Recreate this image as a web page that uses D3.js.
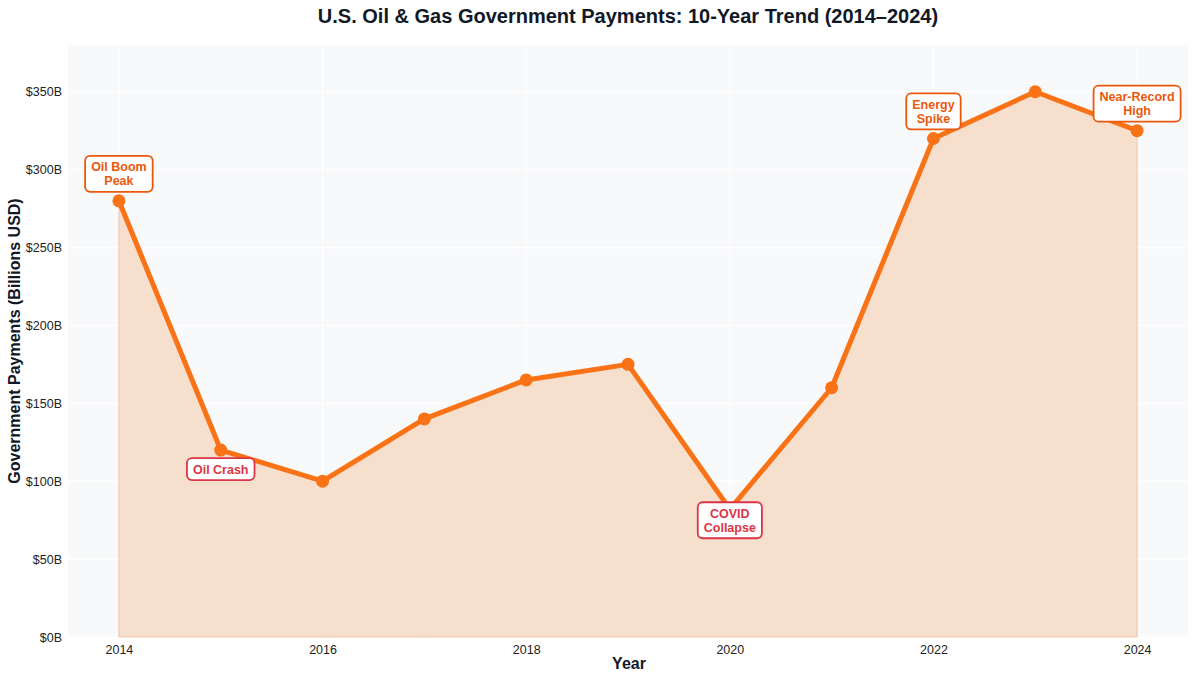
<!DOCTYPE html>
<html><head><meta charset="utf-8">
<script src="https://cdn.jsdelivr.net/npm/d3@7"></script>
<style>body{margin:0;background:#fff;font-family:"Liberation Sans",Arial,sans-serif}</style>
</head><body><svg id="chart" width="1200" height="681"></svg>
<script>
const years = [2014,2015,2016,2017,2018,2019,2020,2021,2022,2023,2024];
const payments = [280,120,100,140,165,175,82,160,320,350,325];
const yTicks = [0,50,100,150,200,250,300,350];
const xTicks = [2014,2016,2018,2020,2022,2024];
const notes = [
  {year:2014, lines:["Oil Boom","Peak"], pos:"above", gap:9, color:"#ea580c"},
  {year:2015, lines:["Oil Crash"], pos:"below", gap:8, color:"#dc3545"},
  {year:2020, lines:["COVID","Collapse"], pos:"below", gap:-7, color:"#dc3545"},
  {year:2022, lines:["Energy","Spike"], pos:"above", gap:9, color:"#ea580c"},
  {year:2024, lines:["Near-Record","High"], pos:"above", gap:9, color:"#ea580c"}
];

const svg = d3.select("#chart");
const m = {left:68, right:12, top:45, bottom:44};
const W = 1200, H = 681;
const x = d3.scaleLinear().domain([2013.5,2024.5]).range([m.left, W-m.right]);
const y = d3.scaleLinear().domain([0,380]).range([H-m.bottom, m.top]);

svg.append("rect").attr("x",m.left).attr("y",m.top)
  .attr("width",W-m.right-m.left).attr("height",H-m.bottom-m.top).attr("fill","#f8f9fb");

// grid
svg.append("g").selectAll("line").data(yTicks).join("line")
  .attr("x1",m.left).attr("x2",W-m.right).attr("y1",d=>y(d)).attr("y2",d=>y(d))
  .attr("stroke","#fff").attr("stroke-width",1.2);
svg.append("g").selectAll("line").data(xTicks).join("line")
  .attr("y1",m.top).attr("y2",H-m.bottom).attr("x1",d=>x(d)).attr("x2",d=>x(d))
  .attr("stroke","#fff").attr("stroke-width",1.2);

const data = years.map((yr,i)=>({yr, v:payments[i]}));
svg.append("path").datum(data)
  .attr("d", d3.area().x(d=>x(d.yr)).y0(y(0)).y1(d=>y(d.v)))
  .attr("fill","#f7dfcd").attr("stroke","#efc5a8").attr("stroke-width",1);
svg.append("path").datum(data)
  .attr("d", d3.line().x(d=>x(d.yr)).y(d=>y(d.v)))
  .attr("fill","none").attr("stroke","#f97316").attr("stroke-width",5).attr("stroke-linejoin","round");
svg.append("g").selectAll("circle").data(data).join("circle")
  .attr("cx",d=>x(d.yr)).attr("cy",d=>y(d.v)).attr("r",6.5).attr("fill","#f97316");

// axes
const yAxis = svg.append("g").attr("transform",`translate(${m.left},0)`)
  .call(d3.axisLeft(y).tickValues(yTicks).tickFormat(d=>`$${d}B`).tickSize(0).tickPadding(6));
const xAxis = svg.append("g").attr("transform",`translate(0,${H-m.bottom})`)
  .call(d3.axisBottom(x).tickValues(xTicks).tickFormat(d3.format("d")).tickSize(0).tickPadding(8));
[xAxis,yAxis].forEach(a=>{a.select(".domain").remove();
  a.selectAll("text").attr("font-size",12.5).attr("fill","#222").attr("font-family","Liberation Sans, Arial");});

svg.append("text").attr("x",628).attr("y",23).attr("text-anchor","middle")
  .attr("font-size",20).attr("font-weight","bold").attr("fill","#111827")
  .text("U.S. Oil & Gas Government Payments: 10-Year Trend (2014–2024)");
svg.append("text").attr("x",629).attr("y",669).attr("text-anchor","middle")
  .attr("font-size",16).attr("font-weight","bold").attr("fill","#111827").text("Year");
svg.append("text").attr("transform",`translate(20,${(m.top+H-m.bottom)/2}) rotate(-90)`)
  .attr("text-anchor","middle").attr("font-size",16).attr("font-weight","bold").attr("fill","#111827")
  .text("Government Payments (Billions USD)");

// annotations
notes.forEach(n=>{
  const v = payments[years.indexOf(n.year)];
  const px = x(n.year), py = y(v);
  const lh = 14, h = n.lines.length*lh + 8;
  const cy = n.pos==="above" ? py - n.gap - h/2 : py + n.gap + h/2;
  const g = svg.append("g");
  const t = g.append("text").attr("text-anchor","middle").attr("font-size",12.5).attr("font-weight","bold").attr("fill",n.color);
  n.lines.forEach((l,i)=>t.append("tspan").attr("x",px).attr("y",cy - (n.lines.length-1)*lh/2 + i*lh + 4.5).text(l));
  const bb = t.node().getBBox();
  g.insert("rect","text").attr("x",bb.x-6).attr("y",cy-h/2).attr("width",bb.width+12).attr("height",h)
    .attr("rx",5).attr("fill","#fff").attr("stroke",n.color).attr("stroke-width",1.8);
});
</script></body></html>
